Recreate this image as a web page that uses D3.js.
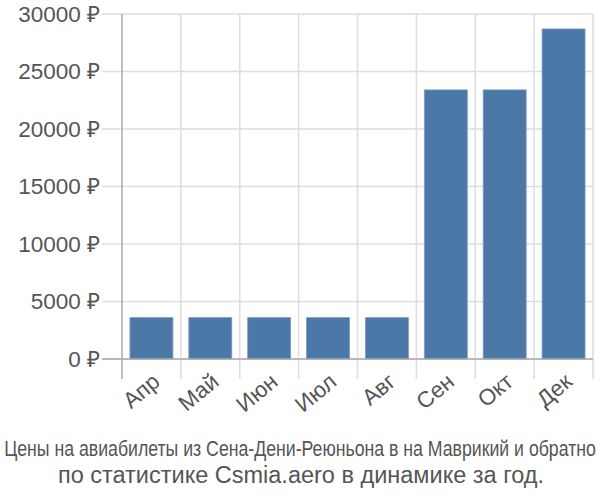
<!DOCTYPE html>
<html><head><meta charset="utf-8">
<script src="https://cdn.jsdelivr.net/npm/d3@7"></script>
<style>body{margin:0;background:#fff}svg{display:block;font-family:"Liberation Sans",Arial,sans-serif}</style>
</head><body><svg id="c" width="600" height="500"></svg>
<script>
const months = ["Апр","Май","Июн","Июл","Авг","Сен","Окт","Дек"];
const prices = [3600,3600,3600,3600,3600,23400,23400,28700];
const yTicks = [0,5000,10000,15000,20000,25000,30000];
const titleLines = ["Цены на авиабилеты из Сена-Дени-Реюньона в на Маврикий и обратно","по статистике Csmia.aero в динамике за год."];

const svg = d3.select("#c");
const m = {left:122, right:593, top:14, bottom:359};
const x = d3.scaleBand().domain(months).range([m.left, m.right]).paddingInner(0.27).paddingOuter(0.135);
const xg = d3.scaleBand().domain(months).range([m.left, m.right]);
const y = d3.scaleLinear().domain([0,30000]).range([m.bottom, m.top]);

// horizontal gridlines
svg.append("g").selectAll("line").data(yTicks).join("line")
  .attr("x1", m.left-20).attr("x2", m.right)
  .attr("y1", d=>y(d)).attr("y2", d=>y(d))
  .attr("stroke", "#dddddd").attr("stroke-width", 1.5);
// vertical gridlines
svg.append("g").selectAll("line").data(months).join("line")
  .attr("x1", d=>xg(d)+xg.bandwidth()).attr("x2", d=>xg(d)+xg.bandwidth())
  .attr("y1", m.top).attr("y2", m.bottom+20)
  .attr("stroke", "#dddddd").attr("stroke-width", 1.5);

// bars
svg.append("g").selectAll("rect").data(months).join("rect")
  .attr("x", d=>x(d)).attr("width", x.bandwidth())
  .attr("y", (d,i)=>y(prices[i])).attr("height", (d,i)=>y(0)-y(prices[i]))
  .attr("fill", "#4c78a8").attr("stroke", "#7d9cc4").attr("stroke-width", 0.8);

// axes lines
svg.append("line").attr("x1", m.left).attr("x2", m.left).attr("y1", m.top).attr("y2", m.bottom+20)
  .attr("stroke", "#aaaaaa").attr("stroke-width", 1.5);
svg.append("line").attr("x1", m.left-20).attr("x2", m.right).attr("y1", m.bottom).attr("y2", m.bottom)
  .attr("stroke", "#aaaaaa").attr("stroke-width", 1.5);

// y labels
svg.append("g").selectAll("text").data(yTicks).join("text")
  .attr("x", 100).attr("y", d=>y(d)).attr("dy", "0.35em")
  .attr("text-anchor", "end").attr("font-size", 22.5).attr("fill", "#555")
  .text(d=>d+" ₽");

// x labels
svg.append("g").selectAll("text").data(months).join("text")
  .attr("transform", d=>`translate(${xg(d)+xg.bandwidth()/2+10},${m.bottom+25}) rotate(-40)`)
  .attr("text-anchor", "end").attr("font-size", 22.5).attr("fill", "#555")
  .text(d=>d);

// title line 1 (condensed horizontally to fit)
const t1 = svg.append("text").attr("x", 0).attr("y", 0).attr("text-anchor", "middle")
  .attr("font-size", 22).attr("fill", "#555").text(titleLines[0]);
const w1 = t1.node().getComputedTextLength();
const s1 = Math.min(1, 592 / w1);
t1.attr("transform", `translate(300,456) scale(${s1},1)`);
svg.append("text").attr("x", 301).attr("y", 483).attr("text-anchor", "middle").attr("font-size", 23.5).attr("fill", "#555")
  .text(titleLines[1]);
</script></body></html>
